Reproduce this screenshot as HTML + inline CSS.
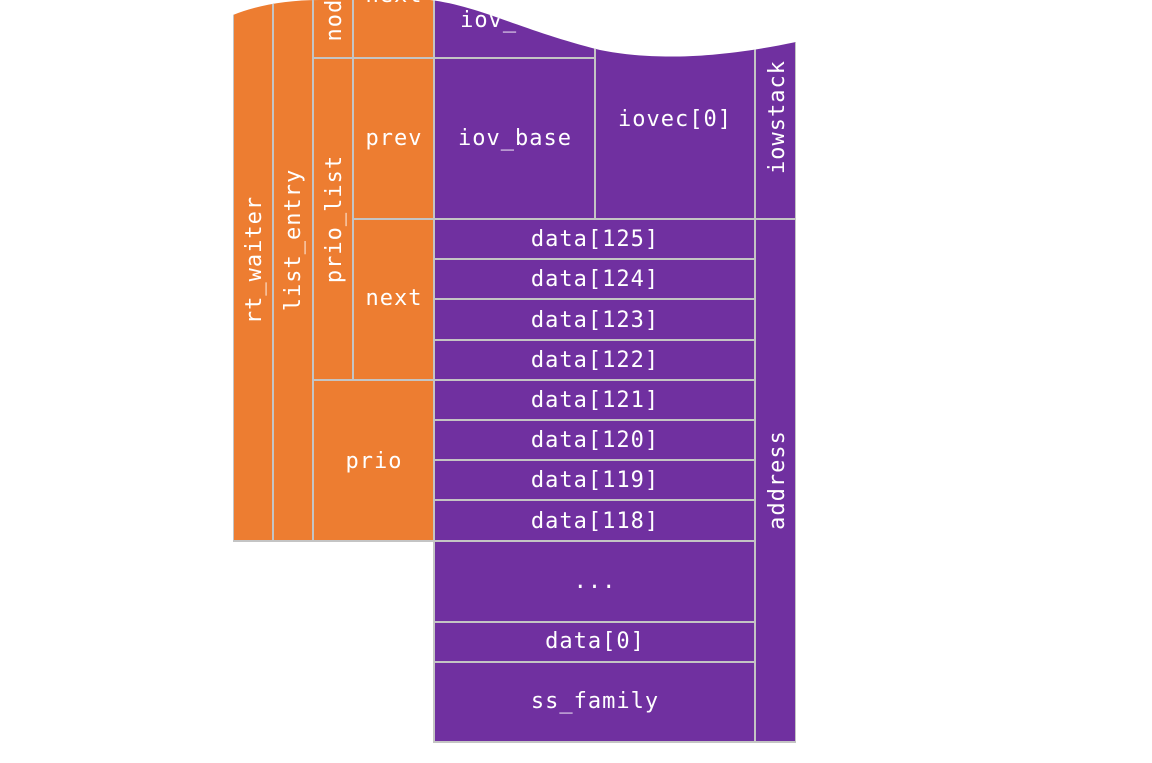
<!DOCTYPE html>
<html><head><meta charset="utf-8"><style>
html,body{margin:0;padding:0;background:#fff;width:1152px;height:763px;overflow:hidden}
svg text{font-family:"DejaVu Sans Mono","Liberation Mono",monospace;font-size:22px;letter-spacing:1px;fill:#fff}
</style></head><body>
<svg width="1152" height="763" viewBox="0 0 1152 763" xmlns="http://www.w3.org/2000/svg">
<defs><clipPath id="c"><path d="M233,15 C255,6 285,0 320,0 L430,0 C480,6 520,30 600,50 C640,58 700,62 796,42 L796,763 L233,763 Z"/></clipPath></defs>
<g clip-path="url(#c)" stroke="#c4c4c4" stroke-width="2">
<rect x="233" y="-20" width="40" height="561" fill="#ED7D31"/>
<rect x="273" y="-20" width="40" height="561" fill="#ED7D31"/>
<rect x="313" y="-20" width="40" height="78" fill="#ED7D31"/>
<rect x="353" y="-20" width="81" height="78" fill="#ED7D31"/>
<rect x="313" y="58" width="40" height="322" fill="#ED7D31"/>
<rect x="353" y="58" width="81" height="161" fill="#ED7D31"/>
<rect x="353" y="219" width="81" height="161" fill="#ED7D31"/>
<rect x="313" y="380" width="121" height="161" fill="#ED7D31"/>
<rect x="434" y="-20" width="161" height="78" fill="#7030A0"/>
<rect x="434" y="58" width="161" height="161" fill="#7030A0"/>
<rect x="595" y="-20" width="160" height="239" fill="#7030A0"/>
<rect x="755" y="-20" width="41" height="239" fill="#7030A0"/>
<rect x="755" y="219" width="41" height="523" fill="#7030A0"/>
<rect x="434" y="219" width="321" height="40" fill="#7030A0"/>
<rect x="434" y="259" width="321" height="40" fill="#7030A0"/>
<rect x="434" y="299" width="321" height="41" fill="#7030A0"/>
<rect x="434" y="340" width="321" height="40" fill="#7030A0"/>
<rect x="434" y="380" width="321" height="40" fill="#7030A0"/>
<rect x="434" y="420" width="321" height="40" fill="#7030A0"/>
<rect x="434" y="460" width="321" height="40" fill="#7030A0"/>
<rect x="434" y="500" width="321" height="41" fill="#7030A0"/>
<rect x="434" y="541" width="321" height="81" fill="#7030A0"/>
<rect x="434" y="622" width="321" height="40" fill="#7030A0"/>
<rect x="434" y="662" width="321" height="80" fill="#7030A0"/>
</g>
<g clip-path="url(#c)" text-anchor="middle">
<text x="394" y="2">next</text>
<text x="510" y="27">iov_len</text>
<text transform="translate(341,13) rotate(-90)">node</text>
<text x="394" y="145">prev</text>
<text x="515" y="145">iov_base</text>
<text x="675" y="126">iovec[0]</text>
<text transform="translate(784,117) rotate(-90)">iowstack</text>
<text transform="translate(261,260) rotate(-90)">rt_waiter</text>
<text transform="translate(300,240) rotate(-90)">list_entry</text>
<text transform="translate(341,219) rotate(-90)">prio_list</text>
<text x="394" y="305">next</text>
<text x="374" y="468">prio</text>
<text x="595" y="246">data[125]</text>
<text x="595" y="286">data[124]</text>
<text x="595" y="327">data[123]</text>
<text x="595" y="367">data[122]</text>
<text x="595" y="407">data[121]</text>
<text x="595" y="447">data[120]</text>
<text x="595" y="487">data[119]</text>
<text x="595" y="528">data[118]</text>
<text x="595" y="588">...</text>
<text x="595" y="648">data[0]</text>
<text x="595" y="708">ss_family</text>
<text transform="translate(784,480) rotate(-90)">address</text>
</g>
</svg>
</body></html>
